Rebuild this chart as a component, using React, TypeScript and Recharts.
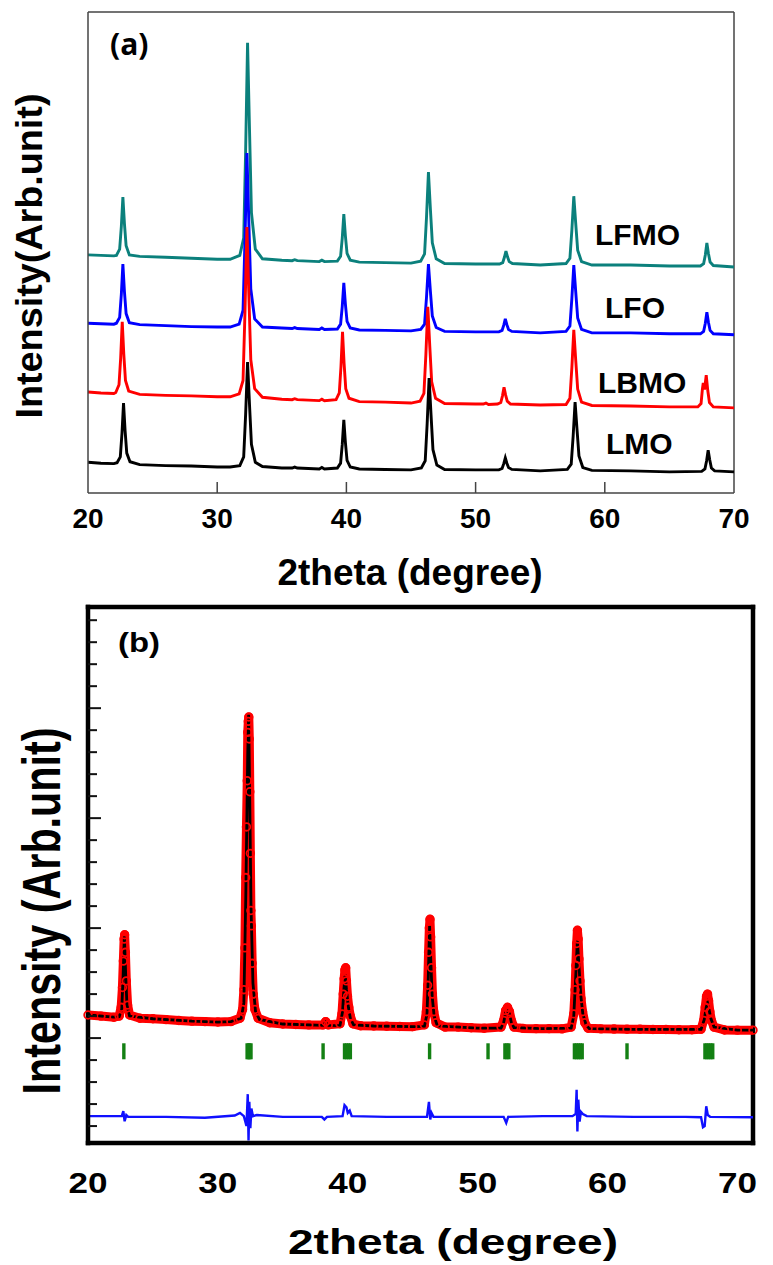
import { ComposedChart, Line, XAxis, YAxis, ReferenceLine } from "recharts"

// ---- panel (a): XRD patterns, [2theta, intensity (arb.)]
const LFMO: [number, number][] = [
  [20, 49.5], [21, 49.4], [22, 49.3], [22.2, 49.4], [22.45, 50.7], [22.58, 55.4], [22.7, 61.5], [22.82, 56.0], [22.95, 51.4], [23.2, 49.5],
  [24, 49.2], [26, 49.0], [28, 48.8], [30, 48.6], [31, 48.6], [31.75, 49.4], [32.05, 53.0], [32.2, 71.0], [32.35, 93.6], [32.5, 75.6],
  [32.65, 58.3], [32.95, 50.7], [33.5, 48.7], [35, 48.4], [35.8, 48.3], [36, 48.5], [36.2, 48.3], [37.9, 48.1], [38.1, 48.4], [38.3, 48.1],
  [39.3, 48.2], [39.55, 49.2], [39.68, 53.0], [39.8, 58.0], [39.92, 53.5], [40.05, 49.8], [40.3, 48.4], [41, 48.0], [43, 47.9], [45, 47.8],
  [45.75, 48.2], [46.05, 49.7], [46.2, 57.3], [46.35, 66.7], [46.5, 59.1], [46.65, 52.0], [46.95, 48.7], [47.6, 47.7], [50, 47.6],
  [51.85, 47.6], [52.1, 47.9], [52.23, 49.0], [52.35, 50.3], [52.47, 49.1], [52.6, 48.1], [52.85, 47.7], [55, 47.4],
  [57.0, 47.7], [57.3, 48.8], [57.45, 54.6], [57.6, 61.7], [57.75, 56.0], [57.9, 50.5], [58.2, 48.1], [59, 47.4], [62, 47.4], [65, 47.2],
  [67.4, 47.2], [67.65, 47.7], [67.78, 49.5], [67.9, 52.0], [68.02, 49.8], [68.15, 48.0], [68.4, 47.3], [70, 47.0],
]

const LFO: [number, number][] = [
  [20, 35.3], [21, 35.2], [22, 35.1], [22.2, 35.3], [22.45, 36.5], [22.58, 41.3], [22.7, 47.6], [22.82, 41.9], [22.95, 37.3], [23.2, 35.4],
  [24, 35.0], [26, 34.8], [28, 34.6], [30, 34.5], [31, 34.5], [31.7, 35.1], [32.0, 38.0], [32.15, 52.6], [32.3, 70.7], [32.45, 56.2],
  [32.6, 42.4], [32.9, 36.2], [33.5, 34.5], [35, 34.3], [35.8, 34.2], [36, 34.4], [36.2, 34.2], [37.9, 34.0], [38.1, 34.3], [38.3, 34.0],
  [39.3, 34.1], [39.55, 35.1], [39.68, 38.8], [39.8, 43.7], [39.92, 39.3], [40.05, 35.7], [40.3, 34.3], [41, 33.9], [43, 33.8], [45, 33.7],
  [45.75, 34.0], [46.05, 35.1], [46.2, 40.7], [46.35, 47.6], [46.5, 42.0], [46.65, 36.8], [46.95, 34.4], [47.6, 33.6], [50, 33.5],
  [51.8, 33.5], [52.05, 33.8], [52.18, 34.9], [52.3, 36.2], [52.42, 35.0], [52.55, 34.0], [52.8, 33.6], [55, 33.3],
  [57.0, 33.6], [57.3, 34.7], [57.45, 40.4], [57.6, 47.4], [57.75, 41.8], [57.9, 36.4], [58.2, 34.0], [59, 33.3], [62, 33.3], [65, 33.1],
  [67.4, 33.1], [67.65, 33.6], [67.78, 35.3], [67.9, 37.6], [68.02, 35.5], [68.15, 33.8], [68.4, 33.1], [70, 32.9],
]

const LBMO: [number, number][] = [
  [20, 21.0], [21, 20.8], [22, 20.7], [22.15, 20.9], [22.4, 22.5], [22.53, 28.1], [22.65, 35.6], [22.77, 28.9], [22.9, 23.4], [23.15, 21.2],
  [24, 20.5], [26, 20.3], [28, 20.2], [30, 20.0], [31, 20.0], [31.7, 20.6], [32.0, 23.4], [32.15, 37.6], [32.3, 55.3], [32.45, 41.1],
  [32.6, 27.7], [32.9, 21.7], [33.5, 19.9], [35, 19.5], [35.8, 19.4], [36, 19.6], [36.2, 19.4], [37.9, 19.2], [38.1, 19.5], [38.3, 19.2],
  [39.2, 19.4], [39.45, 20.8], [39.58, 26.3], [39.7, 33.5], [39.82, 27.0], [39.95, 21.7], [40.2, 19.7], [41, 19.0], [43, 18.9], [45, 18.7],
  [45.7, 19.1], [46.0, 20.7], [46.15, 28.7], [46.3, 38.7], [46.45, 30.7], [46.6, 23.1], [46.9, 19.7], [47.6, 18.6], [50, 18.5],
  [50.6, 18.5], [50.8, 18.7], [51, 18.4], [51.7, 18.5], [51.95, 18.8], [52.08, 20.2], [52.2, 22.0], [52.32, 20.4], [52.45, 19.1], [52.7, 18.5],
  [55, 18.3], [57.0, 18.4], [57.3, 19.7], [57.45, 26.0], [57.6, 33.9], [57.75, 27.6], [57.9, 21.6], [58.2, 18.9], [59, 18.2], [62, 18.1],
  [65, 17.9], [67.2, 17.9], [67.45, 18.6], [67.55, 21.5], [67.62, 22.9], [67.72, 21.5], [67.85, 24.5], [67.97, 21.3], [68.1, 18.8],
  [68.4, 17.9], [70, 17.7],
]

const LMO: [number, number][] = [
  [20, 6.4], [21, 6.2], [22, 6.1], [22.25, 6.3], [22.5, 7.5], [22.63, 12.4], [22.75, 18.7], [22.87, 13.0], [23, 8.3], [23.25, 6.5],
  [24, 5.9], [26, 5.7], [28, 5.6], [30, 5.4], [31, 5.4], [31.75, 5.7], [32.05, 7.5], [32.2, 16.3], [32.35, 27.2], [32.5, 18.4],
  [32.65, 10.1], [32.95, 6.4], [33.5, 5.5], [35, 5.2], [35.8, 5.2], [36, 5.4], [36.2, 5.2], [37.9, 5.0], [38.1, 5.3], [38.3, 5.0],
  [39.3, 5.2], [39.55, 6.2], [39.68, 10.1], [39.8, 15.2], [39.92, 10.6], [40.05, 6.8], [40.3, 5.4], [41, 5.0], [43, 4.9], [45, 4.8],
  [45.8, 5.2], [46.1, 6.7], [46.25, 14.4], [46.4, 23.9], [46.55, 16.3], [46.7, 9.0], [47, 5.8], [47.6, 4.9], [50, 4.8],
  [51.8, 4.8], [52.05, 5.1], [52.18, 6.1], [52.3, 7.3], [52.42, 6.2], [52.55, 5.3], [52.8, 4.9], [55, 4.6],
  [57.1, 4.9], [57.4, 6.0], [57.55, 11.8], [57.7, 18.9], [57.85, 13.2], [58, 7.7], [58.3, 5.3], [59, 4.7], [62, 4.6], [65, 4.4],
  [67.5, 4.5], [67.75, 5.0], [67.88, 6.7], [68, 8.9], [68.12, 6.9], [68.25, 5.2], [68.5, 4.6], [70, 4.4],
]

const ticksA = [20, 30, 40, 50, 60, 70]

// ---- panel (b): Rietveld refinement
const observed: [number, number][] = [
  [20, 6.05], [21, 6.0], [22, 5.95], [22.4, 6.0], [22.55, 6.4], [22.65, 7.3], [22.72, 8.5], [22.78, 9.5], [22.82, 9.7], [22.88, 8.9],
  [22.95, 7.6], [23.05, 6.5], [23.2, 6.05], [24, 5.9], [25, 5.88], [26, 5.84], [27, 5.8], [28, 5.77], [29, 5.75], [30, 5.73], [31, 5.75],
  [31.7, 5.9], [31.9, 6.3], [32.0, 7.2], [32.08, 9.1], [32.14, 12.3], [32.2, 14.6], [32.26, 16.7], [32.3, 18.9], [32.34, 19.4],
  [32.38, 19.6], [32.42, 18.6], [32.46, 16.2], [32.5, 13.4], [32.54, 10.8], [32.58, 10.1], [32.64, 8.4], [32.72, 7.0], [32.85, 6.3],
  [33.1, 5.9], [34, 5.7], [35, 5.64], [36, 5.62], [37, 5.6], [38.1, 5.6], [38.3, 5.75], [38.5, 5.6], [39.4, 5.65], [39.55, 6.1],
  [39.65, 7.0], [39.72, 7.7], [39.78, 8.1], [39.84, 8.2], [39.9, 7.6], [39.98, 6.9], [40.08, 6.4], [40.2, 6.0], [40.4, 5.65],
  [41, 5.56], [42, 5.55], [43, 5.54], [44, 5.53], [45, 5.52], [45.9, 5.6], [46.05, 6.2], [46.15, 7.4], [46.22, 8.9], [46.28, 10.0],
  [46.33, 10.4], [46.38, 9.6], [46.45, 8.2], [46.52, 7.0], [46.62, 6.2], [46.8, 5.7], [47.5, 5.5], [48.5, 5.5], [49.5, 5.47],
  [50.5, 5.45], [51.8, 5.5], [52.0, 5.8], [52.15, 6.25], [52.3, 6.4], [52.45, 6.2], [52.6, 5.8], [52.8, 5.5], [53.5, 5.44],
  [54.5, 5.43], [55.5, 5.43], [56.5, 5.42], [57.2, 5.5], [57.4, 6.1], [57.5, 7.2], [57.56, 8.3], [57.62, 9.3], [57.68, 9.9],
  [57.74, 9.5], [57.8, 8.6], [57.88, 7.6], [57.96, 6.8], [58.08, 6.2], [58.25, 5.7], [58.5, 5.45], [59.5, 5.42], [60.5, 5.41],
  [61.5, 5.4], [62.5, 5.4], [63.5, 5.39], [64.5, 5.39], [65.5, 5.38], [66.5, 5.38], [67.2, 5.4], [67.4, 5.8], [67.52, 6.4],
  [67.62, 6.9], [67.7, 7.0], [67.78, 6.7], [67.88, 6.2], [68.0, 5.8], [68.2, 5.5], [69, 5.37], [70, 5.36], [71.2, 5.36],
]

const calculated: [number, number][] = [
  [20, 6.05], [22, 5.95], [22.4, 5.97], [22.6, 6.3], [22.7, 7.8], [22.8, 9.65], [22.9, 7.9], [23.0, 6.5], [23.2, 6.0], [25, 5.88],
  [28, 5.77], [30, 5.73], [31, 5.75], [31.8, 5.9], [32.0, 6.6], [32.15, 11.5], [32.3, 18.0], [32.37, 19.7], [32.45, 16.0], [32.55, 11.0],
  [32.7, 7.5], [32.9, 6.2], [33.2, 5.85], [35, 5.64], [38.1, 5.58], [38.3, 5.72], [38.5, 5.58], [39.4, 5.57], [39.6, 6.2], [39.7, 7.2],
  [39.8, 7.9], [39.9, 7.2], [40.05, 6.4], [40.2, 5.9], [40.45, 5.6], [42, 5.55], [45, 5.52], [45.9, 5.53], [46.1, 6.1], [46.2, 7.8],
  [46.3, 10.1], [46.4, 8.4], [46.5, 6.9], [46.65, 6.0], [46.9, 5.55], [50, 5.45], [51.8, 5.45], [52.0, 5.7], [52.15, 6.15], [52.3, 6.27],
  [52.45, 6.1], [52.6, 5.7], [52.8, 5.47], [55, 5.43], [57.2, 5.45], [57.4, 6.0], [57.55, 7.8], [57.68, 9.45], [57.8, 8.3],
  [57.95, 6.9], [58.1, 6.1], [58.35, 5.6], [58.6, 5.43], [62, 5.4], [67.2, 5.4], [67.45, 5.85], [67.6, 6.4], [67.7, 6.6], [67.8, 6.35],
  [67.95, 5.9], [68.2, 5.5], [70, 5.36], [71.2, 5.36],
]

const difference: [number, number][] = [
  [20, 1.45], [22.6, 1.45], [22.72, 1.68], [22.82, 1.22], [22.95, 1.5], [23.1, 1.42], [26, 1.42], [29, 1.38], [31.3, 1.48], [31.7, 1.6],
  [32.0, 1.45], [32.2, 1.0], [32.3, 2.45], [32.36, 0.35], [32.42, 2.1], [32.5, 0.9], [32.58, 1.8], [32.7, 1.45], [33, 1.5], [35, 1.42],
  [38.0, 1.42], [38.2, 1.3], [38.4, 1.42], [39.6, 1.45], [39.75, 1.95], [39.9, 1.85], [40.0, 1.6], [40.15, 1.7], [40.3, 1.45], [43, 1.42],
  [46.1, 1.42], [46.25, 2.1], [46.35, 1.3], [46.45, 1.6], [46.6, 1.42], [49, 1.42], [52.0, 1.42], [52.2, 1.15], [52.35, 1.42], [55, 1.45],
  [57.3, 1.45], [57.55, 1.55], [57.62, 2.65], [57.68, 0.75], [57.75, 2.2], [57.85, 1.2], [57.95, 1.65], [58.1, 1.55], [58.4, 1.45],
  [62, 1.42], [66, 1.42], [67.2, 1.4], [67.35, 0.95], [67.48, 1.0], [67.6, 1.9], [67.72, 1.5], [67.9, 1.42], [71.2, 1.4],
]

const braggTheta = [
  22.76, 32.25, 32.35, 32.45, 32.55, 38.1, 39.75, 39.9, 40.05, 40.2, 46.3, 50.8, 52.1, 52.25, 52.4,
  57.45, 57.6, 57.75, 57.9, 58.05, 61.5, 67.5, 67.65, 67.8, 67.95, 68.1,
]
const braggLevel = 4.4

const ticksB = [20, 30, 40, 50, 60, 70]
const yTicksB = [1, 2, 3, 4, 5, 6, 7, 8, 9, 10, 11, 12, 13, 14, 15, 16, 17, 18, 19, 20, 21, 22, 23, 24]

const pts = (arr: [number, number][]) => arr.map(([x, y]) => ({ x, y }))

const FONT = "'Liberation Sans', Arial, sans-serif"

function TickA({ x, y, payload }: any) {
  const edge = payload.value === 20 || payload.value === 70
  return (
    <g>
      {!edge && <line x1={x} x2={x} y1={y} y2={y - 11} stroke="#444" strokeWidth={1.5} />}
      <text x={x} y={y + 35} textAnchor="middle" fontFamily={FONT} fontWeight={700} fontSize={28} fill="#000">
        {payload.value}
      </text>
    </g>
  )
}

function TickB({ x, y, payload }: any) {
  return (
    <text x={x} y={y + 50} textAnchor="middle" fontFamily={FONT} fontWeight={700} fontSize={30}
      textLength={39} lengthAdjust="spacingAndGlyphs" fill="#000">
      {payload.value}
    </text>
  )
}

function YTickB({ x, y, payload }: any) {
  const len = payload.value % 5 === 0 ? 13 : 9
  return <line x1={x} x2={x + len} y1={y} y2={y} stroke="#111" strokeWidth={2} />
}

function BraggMark({ cx, cy }: any) {
  if (cx == null || cy == null) return null
  return <rect x={cx - 1.7} y={cy - 8} width={3.4} height={16} fill="#138013" />
}

export default function App() {
  return (
    <div style={{ position: "absolute", left: 0, top: 0, width: 773, height: 1265, background: "#fff" }}>
      <div style={{ position: "absolute", left: 0, top: 0 }}>
        <ComposedChart width={773} height={600} margin={{ top: 12, right: 39, bottom: 77, left: 87 }}>
          <XAxis type="number" dataKey="x" domain={[20, 70]} ticks={ticksA} height={30} interval={0}
            axisLine={{ stroke: "#444", strokeWidth: 1.5 }} tickLine={false} tickSize={0} tickMargin={0} tick={<TickA />} />
          <YAxis type="number" domain={[0, 100]} width={1} tick={false} tickLine={false}
            axisLine={{ stroke: "#444", strokeWidth: 1.5 }} />
          <ReferenceLine y={100} stroke="#444" strokeWidth={1.5} />
          <ReferenceLine x={70} stroke="#444" strokeWidth={1.5} />
          <Line data={pts(LFMO)} dataKey="y" type="linear" stroke="#0b807c" strokeWidth={2.9} dot={false} isAnimationActive={false} />
          <Line data={pts(LFO)} dataKey="y" type="linear" stroke="#0000ff" strokeWidth={2.9} dot={false} isAnimationActive={false} />
          <Line data={pts(LBMO)} dataKey="y" type="linear" stroke="#ff0000" strokeWidth={2.9} dot={false} isAnimationActive={false} />
          <Line data={pts(LMO)} dataKey="y" type="linear" stroke="#000" strokeWidth={2.9} dot={false} isAnimationActive={false} />
        </ComposedChart>
      </div>

      <div style={{ position: "absolute", left: 0, top: 600 }}>
        <ComposedChart width={773} height={665} margin={{ top: 7, right: 20, bottom: 92, left: 87 }}>
          <XAxis type="number" dataKey="x" domain={[20, 71.2]} ticks={ticksB} height={30} interval={0}
            axisLine={{ stroke: "#000", strokeWidth: 4.5, strokeLinecap: "square" }} tickLine={false} tickSize={0} tickMargin={0}
            tick={<TickB />} />
          <YAxis type="number" domain={[0.23, 24.6]} ticks={yTicksB} interval={0} width={1} tickLine={false} tickSize={0}
            tickMargin={0} axisLine={{ stroke: "#000", strokeWidth: 4.5, strokeLinecap: "square" }} tick={<YTickB />} />
          <ReferenceLine y={24.6} stroke="#000" strokeWidth={4.5} strokeLinecap="square" />
          <ReferenceLine x={71.2} stroke="#000" strokeWidth={4.5} strokeLinecap="square" />
          <Line data={pts(observed)} dataKey="y" type="linear" stroke="#ff0000" strokeWidth={9} strokeLinejoin="round"
            dot={{ r: 3.8, stroke: "#ff0000", strokeWidth: 1.8, fill: "none" }} isAnimationActive={false} />
          <Line data={pts(calculated)} dataKey="y" type="linear" stroke="#000" strokeWidth={2.8} dot={false} isAnimationActive={false} />
          <Line data={braggTheta.map((x) => ({ x, y: braggLevel }))} dataKey="y" stroke="none" dot={<BraggMark />}
            isAnimationActive={false} />
          <Line data={pts(difference)} dataKey="y" type="linear" stroke="#1010ff" strokeWidth={2.4} dot={false} isAnimationActive={false} />
        </ComposedChart>
      </div>

      <svg width={773} height={1265} style={{ position: "absolute", left: 0, top: 0, pointerEvents: "none" }}>
        <g fontFamily={FONT} fontWeight={700} fill="#000">
          <text x={110} y={55} fontSize={30} fontFamily="'Open Sans', sans-serif">(a)</text>
          <text transform="translate(42,256) rotate(-90)" textAnchor="middle" fontSize={37}
            textLength={325} lengthAdjust="spacingAndGlyphs">Intensity(Arb.unit)</text>
          <text x={410} y={585} textAnchor="middle" fontSize={37}>2theta (degree)</text>
          <text x={595} y={245} fontSize={30}>LFMO</text>
          <text x={605} y={318} fontSize={30}>LFO</text>
          <text x={598} y={393} fontSize={30}>LBMO</text>
          <text x={606} y={454} fontSize={30}>LMO</text>

          <text x={118} y={652} fontSize={28} textLength={42} lengthAdjust="spacingAndGlyphs">(b)</text>
          <text transform="translate(60,911) rotate(-90)" textAnchor="middle" fontSize={53}
            textLength={367} lengthAdjust="spacingAndGlyphs">Intensity (Arb.unit)</text>
          <text x={453} y={1254} textAnchor="middle" fontSize={35} textLength={330}
            lengthAdjust="spacingAndGlyphs">2theta (degree)</text>
        </g>
      </svg>
    </div>
  )
}
